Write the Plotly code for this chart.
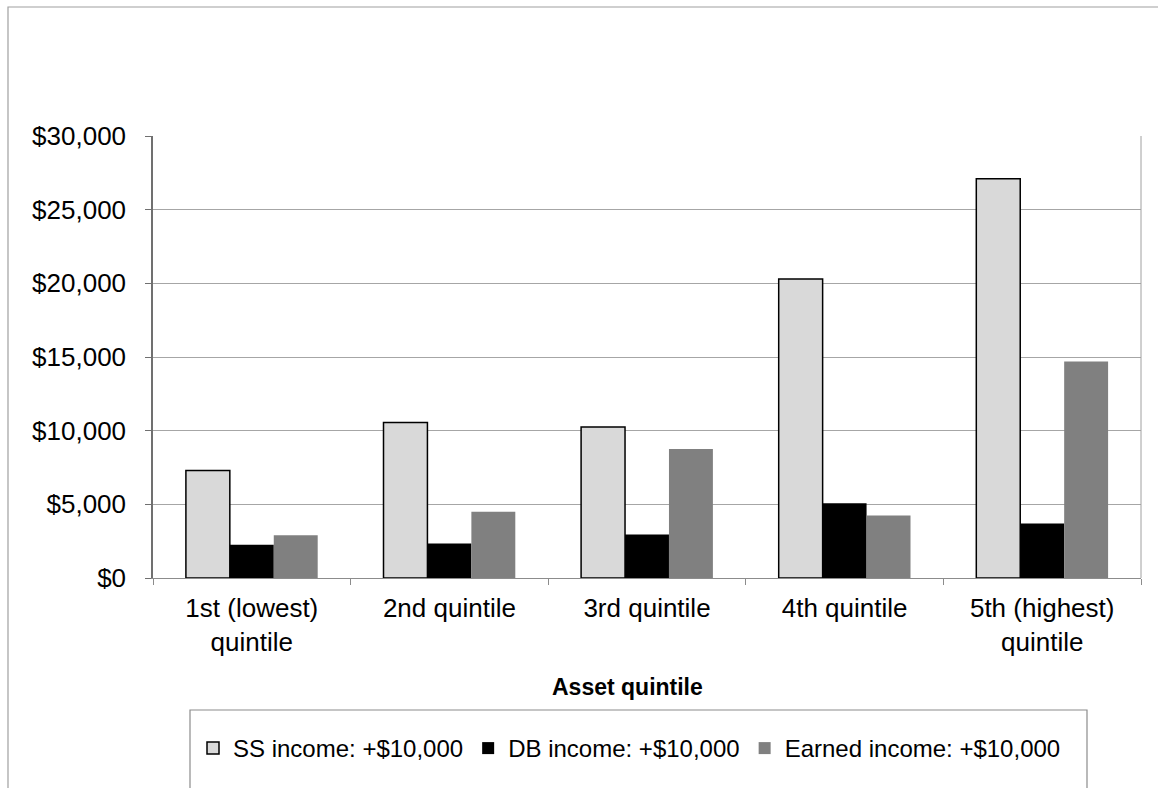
import plotly.graph_objects as go

categories = ["1st (lowest)<br>quintile", "2nd quintile", "3rd quintile", "4th quintile", "5th (highest)<br>quintile"]
ss_income = [7300, 10550, 10250, 20300, 27100]
db_income = [2250, 2350, 2950, 5070, 3700]
earned_income = [2900, 4500, 8750, 4250, 14700]
series_names = ["SS income: +$10,000", "DB income: +$10,000", "Earned income: +$10,000"]
y_ticks = [0, 5000, 10000, 15000, 20000, 25000, 30000]
y_tick_labels = ["$" + format(v, ",") for v in y_ticks]

W, H = 1158, 788
L, R, T, B = 153, 1141, 136, 578
FONT = "Liberation Sans, Arial, sans-serif"

def px_x(px):
    return (px - L) / (R - L)

def px_y(py):
    return (B - py) / (B - T)

fig = go.Figure()
fig.add_trace(go.Bar(x=categories, y=ss_income, name=series_names[0],
                     marker=dict(color="#d9d9d9", line=dict(color="#000000", width=1.5))))
fig.add_trace(go.Bar(x=categories, y=db_income, name=series_names[1],
                     marker=dict(color="#000000", line=dict(color="#000000", width=0))))
fig.add_trace(go.Bar(x=categories, y=earned_income, name=series_names[2],
                     marker=dict(color="#808080", line=dict(color="#8c8c8c", width=0))))

fig.update_layout(
    width=W, height=H,
    margin=dict(l=L, r=W - R, t=T, b=H - B),
    paper_bgcolor="white", plot_bgcolor="white",
    font=dict(family=FONT, color="#000000", size=26),
    barmode="group", bargap=0.333, bargroupgap=0,
    showlegend=True,
    legend=dict(orientation="h", x=px_x(193), y=px_y(726), xanchor="left", yanchor="top",
                font=dict(family=FONT, size=24, color="#000000"),
                bgcolor="rgba(0,0,0,0)", borderwidth=0, itemwidth=30,
                traceorder="normal"),
)

fig.update_xaxes(
    showline=True, linecolor="#8c8c8c", linewidth=1,
    ticks="outside", tickson="boundaries", ticklen=6, tickcolor="#8c8c8c",
    tickfont=dict(size=26, family=FONT, color="#000000"),
    ticklabelstandoff=7,
    showgrid=False, zeroline=False, fixedrange=True,
)
fig.update_yaxes(
    range=[0, 30000], tickmode="array", tickvals=y_ticks, ticktext=y_tick_labels,
    showline=True, linecolor="#707070", linewidth=1.5,
    ticks="outside", ticklen=6, tickcolor="#707070",
    tickfont=dict(size=26, family=FONT, color="#000000"),
    ticklabelstandoff=14,
    showgrid=True, gridcolor="#a6a6a6", gridwidth=1, zeroline=False,
)

# outer chart frame (cropped at right/bottom)
fig.add_shape(type="rect", xref="paper", yref="paper",
              x0=px_x(8), x1=px_x(1175), y0=px_y(805), y1=px_y(7),
              line=dict(color="#a0a0a0", width=1.2), fillcolor="rgba(0,0,0,0)", layer="below")
# right border of plot area
fig.add_shape(type="line", xref="paper", yref="paper", x0=1, x1=1, y0=0, y1=1,
              line=dict(color="#a0a0a0", width=1))
# legend box
fig.add_shape(type="rect", xref="paper", yref="paper",
              x0=px_x(190), x1=px_x(1087), y0=px_y(805), y1=px_y(710),
              line=dict(color="#8c8c8c", width=1.2), fillcolor="rgba(0,0,0,0)")

fig.add_annotation(text="<b>Asset quintile</b>", xref="paper", yref="paper",
                   x=px_x(627), y=px_y(687), showarrow=False,
                   xanchor="center", yanchor="middle",
                   font=dict(family=FONT, size=23, color="#000000"))

fig.write_html("out.html")
